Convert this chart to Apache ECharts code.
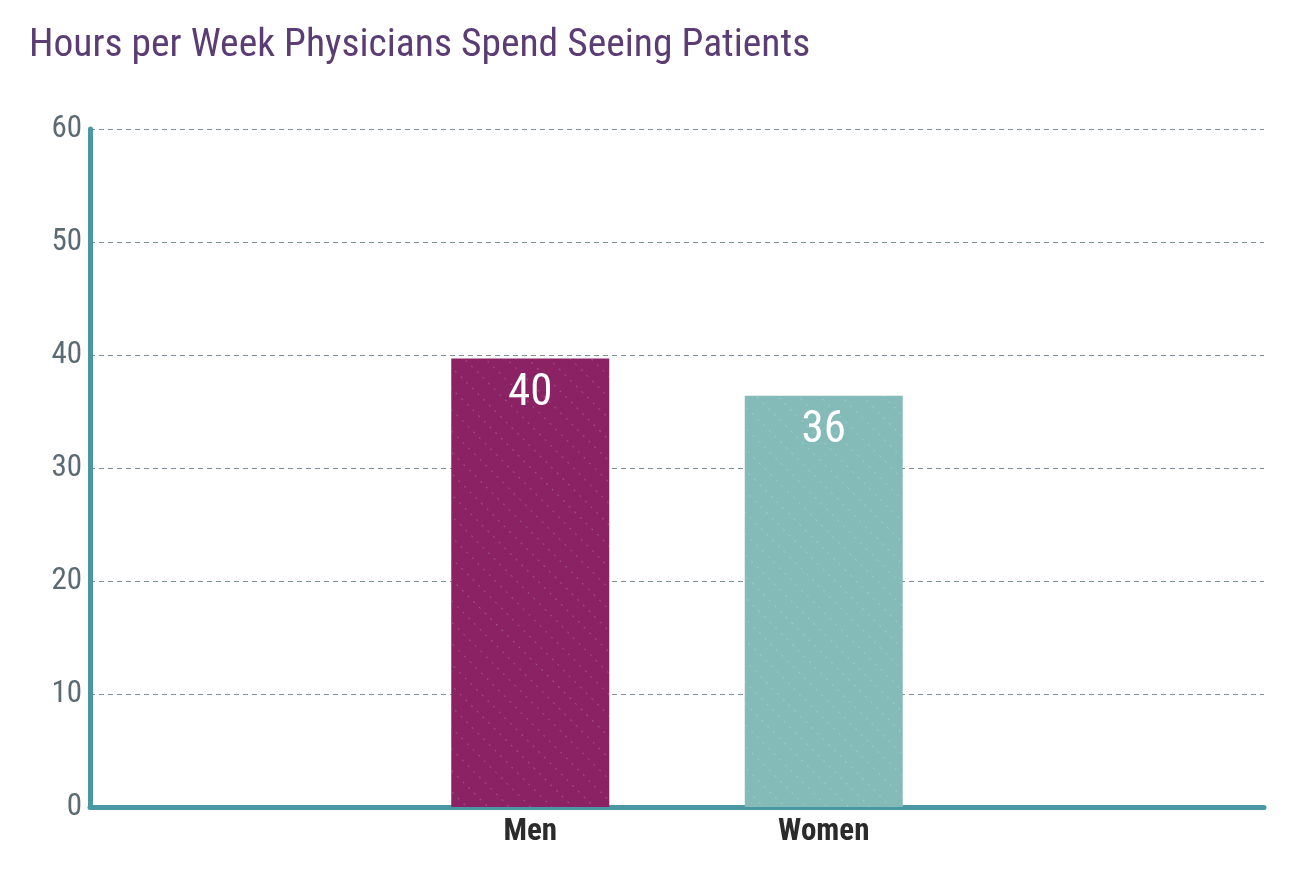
<!DOCTYPE html>
<html>
<head>
<meta charset="utf-8">
<script src="https://cdn.jsdelivr.net/npm/echarts@6/dist/echarts.min.js"></script>
<style>html,body{margin:0;padding:0;background:#fff}#c{width:1290px;height:878px}</style>
</head>
<body>
<div id="c"></div>
<script>
const categories = ['', 'Men', 'Women', ''];
const hours = [null, 39.7, 36.4, null];
const barColors = ['#8a2263', '#8a2263', '#84bbb8', '#84bbb8'];
const yTicks = { min: 0, max: 60, interval: 10 };
const titleText = 'Hours per Week Physicians Spend Seeing Patients';

const FONT = '"Roboto Condensed", Roboto, "Noto Sans", sans-serif';
const chart = echarts.init(document.getElementById('c'));
chart.setOption({
  animation: false,
  title: {
    text: titleText,
    left: 24, top: 21,
    textStyle: { fontFamily: FONT, fontSize: 39.5, fontWeight: 'normal', color: '#5b3d73' }
  },
  grid: { left: 90, right: 26, top: 129, bottom: 71 },
  xAxis: {
    type: 'category',
    data: categories,
    axisLine: { lineStyle: { color: '#4a98a3', width: 5, cap: 'round' } },
    axisTick: { show: false },
    axisLabel: { fontFamily: FONT, fontSize: 31, fontWeight: 'bold', color: '#2b2b2b', margin: 10 }
  },
  yAxis: {
    type: 'value',
    min: yTicks.min, max: yTicks.max, interval: yTicks.interval,
    axisLine: { show: true, lineStyle: { color: '#4a98a3', width: 5, cap: 'round' } },
    axisTick: { show: false },
    axisLabel: { fontFamily: FONT, fontSize: 31, color: '#5a6b75', margin: 8 },
    splitLine: { lineStyle: { color: '#7f9198', type: [5, 4], width: 1.2 } }
  },
  series: [{
    type: 'bar',
    data: hours.map((v, i) => v == null ? null : {
      value: v,
      itemStyle: {
        color: barColors[i],
        decal: {
          symbol: 'rect',
          color: 'rgba(255,255,255,0.2)',
          dashArrayX: [[2, 6]],
          dashArrayY: [1, 14],
          rotation: Math.PI / 4,
          symbolSize: 1
        }
      }
    }),
    barWidth: 158,
    z: 1,
    label: {
      show: true,
      position: 'insideTop',
      distance: 13,
      formatter: p => Math.round(p.value),
      fontFamily: FONT, fontSize: 45, color: '#ffffff'
    }
  }]
});
</script>
</body>
</html>
